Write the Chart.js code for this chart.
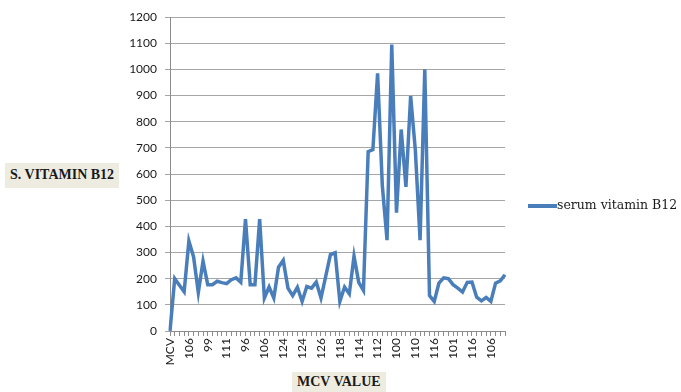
<!DOCTYPE html>
<html>
<head>
<meta charset="utf-8">
<script src="https://cdn.jsdelivr.net/npm/chart.js@4"></script>
<style>
  body { margin: 0; background: #fff; }
  #wrap { position: relative; width: 681px; height: 392px; overflow: hidden; }
  .axisTitle {
    position: absolute; background: #eeece1; color: #1a1a1a;
    font: bold 14px "Liberation Serif", serif; white-space: nowrap;
  }
  #yTitle { left: 5px; top: 163px; padding: 4px 5px 5px 5px; }
  #xTitle { left: 292px; top: 372px; padding: 2px 5px 5px 5px; }
  #legend { position: absolute; left: 528px; top: 197px; font: 12.5px "DejaVu Serif", serif; color: #1a1a1a; white-space: nowrap; }
  #legend span.sw { display: inline-block; width: 29px; height: 4px; background: #4a7ebb; vertical-align: middle; }
</style>
</head>
<body>
<div id="wrap">
  <canvas id="b12Chart" width="681" height="392"></canvas>
  <div class="axisTitle" id="yTitle">S. VITAMIN B12</div>
  <div class="axisTitle" id="xTitle">MCV VALUE</div>
  <div id="legend"><span class="sw"></span>serum vitamin B12</div>
</div>
<script>
// MCV value per patient (first entry is the header cell "MCV")
const mcvLabels = [
  "MCV", "104", "110", "98", "106", "101", "112", "97", "99", "103", "108", "102",
  "111", "105", "100", "109", "96", "113", "107", "98", "106", "115", "119", "121",
  "124", "118", "120", "117", "124", "122", "119", "125", "126", "121", "116", "120",
  "118", "115", "117", "113", "114", "110", "108", "111", "112", "109", "104", "106",
  "100", "102", "105", "107", "110", "113", "112", "114", "116", "112", "108", "103",
  "101", "104", "109", "113", "116", "111", "108", "105", "106", "103", "108", "104"
];
const serumB12 = [
  0, 200, 175, 150, 344, 283, 147, 267, 177, 177, 190, 185,
  181, 196, 203, 186, 428, 177, 177, 428, 126, 168, 126, 244,
  270, 164, 135, 167, 113, 170, 164, 187, 126, 209, 292, 299,
  113, 168, 142, 286, 186, 155, 685, 693, 985, 555, 347, 1095,
  452, 770, 551, 898, 690, 347, 1000, 135, 113, 183, 203, 200,
  177, 164, 149, 186, 187, 129, 115, 128, 113, 183, 192, 215
];
const labelEvery = 4;

new Chart(document.getElementById("b12Chart"), {
  type: "line",
  data: {
    labels: mcvLabels,
    datasets: [
      {
        label: "serum vitamin B12",
        data: serumB12,
        borderColor: "#4a7ebb",
        borderWidth: 3.5,
        pointRadius: 0,
        tension: 0,
      },
    ],
  },
  options: {
    responsive: false,
    animation: false,
    layout: { padding: { left: 125, right: 176, top: 17, bottom: 0 } },
    plugins: { legend: { display: false }, tooltip: { enabled: false } },
    scales: {
      x: {
        offset: false,
        afterFit: (s) => { s.height = 61; },
        border: { color: "#8c8c8c" },
        grid: { drawOnChartArea: false, drawTicks: true, tickLength: 5, color: "#8c8c8c" },
        ticks: {
          autoSkip: false,
          minRotation: 90,
          maxRotation: 90,
          padding: 2,
          color: "#1a1a1a",
          font: { family: "Lato", size: 12 },
          callback: (v, i) => (i % labelEvery === 0 ? mcvLabels[i] : ""),
        },
      },
      y: {
        min: 0,
        max: 1200,
        afterFit: (s) => { s.width = 45; },
        border: { color: "#8c8c8c" },
        grid: { color: "#a6a6a6", tickLength: 5 },
        ticks: {
          stepSize: 100,
          padding: 8,
          color: "#1a1a1a",
          font: { family: "Lato", size: 12 },
          callback: (v) => String(v),
        },
      },
    },
  },
});
</script>
</body>
</html>
